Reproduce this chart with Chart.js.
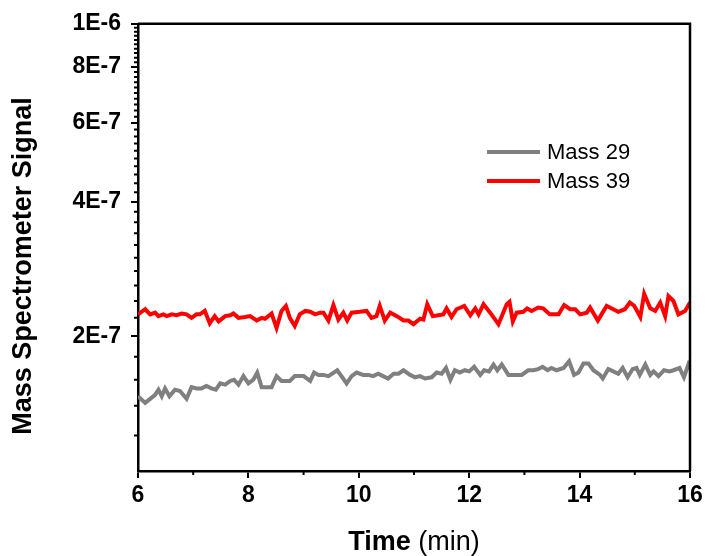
<!DOCTYPE html>
<html>
<head>
<meta charset="utf-8">
<script src="https://cdn.jsdelivr.net/npm/chart.js@4"></script>
<style>
  html, body { margin: 0; padding: 0; background: #fff; }
  #wrap { width: 707px; height: 556px; }
</style>
</head>
<body>
<div id="wrap"><canvas id="msChart"></canvas></div>
<script>
// Mass 29 (grey) and Mass 39 (red) traces
const time29 = [6.00, 6.13, 6.22, 6.31, 6.37, 6.43, 6.49, 6.57, 6.67, 6.76, 6.88, 6.97, 7.06, 7.15, 7.24, 7.33, 7.41, 7.49, 7.58, 7.67,
    7.74, 7.82, 7.91, 8.00, 8.09, 8.16, 8.24, 8.33, 8.42, 8.51, 8.60, 8.75, 8.84, 9.00, 9.12, 9.19, 9.27, 9.36, 9.45, 9.61,
    9.78, 9.87, 9.96, 10.08, 10.17, 10.26, 10.35, 10.44, 10.53, 10.63, 10.72, 10.81, 10.93, 11.02, 11.11, 11.20, 11.32, 11.41, 11.50, 11.58,
    11.66, 11.74, 11.83, 11.92, 12.00, 12.09, 12.20, 12.27, 12.36, 12.44, 12.51, 12.59, 12.71, 12.83, 12.95, 13.07, 13.16, 13.25, 13.33, 13.42,
    13.49, 13.58, 13.71, 13.81, 13.90, 13.98, 14.07, 14.16, 14.25, 14.37, 14.42, 14.52, 14.61, 14.70, 14.78, 14.87, 14.96, 15.03, 15.09, 15.19,
    15.28, 15.34, 15.43, 15.53, 15.63, 15.70, 15.81, 15.89, 15.97, 16.00];
const mass29 = [1.47e-7, 1.42e-7, 1.45e-7, 1.48e-7, 1.52e-7, 1.47e-7, 1.53e-7, 1.47e-7, 1.52e-7, 1.51e-7, 1.45e-7, 1.54e-7, 1.53e-7, 1.53e-7, 1.55e-7, 1.53e-7, 1.52e-7, 1.57e-7, 1.56e-7, 1.59e-7,
    1.60e-7, 1.56e-7, 1.63e-7, 1.57e-7, 1.60e-7, 1.66e-7, 1.54e-7, 1.54e-7, 1.54e-7, 1.63e-7, 1.59e-7, 1.59e-7, 1.63e-7, 1.63e-7, 1.59e-7, 1.66e-7, 1.64e-7, 1.64e-7, 1.63e-7, 1.68e-7,
    1.57e-7, 1.63e-7, 1.66e-7, 1.64e-7, 1.64e-7, 1.63e-7, 1.65e-7, 1.63e-7, 1.61e-7, 1.65e-7, 1.65e-7, 1.68e-7, 1.64e-7, 1.62e-7, 1.63e-7, 1.61e-7, 1.62e-7, 1.66e-7, 1.65e-7, 1.70e-7,
    1.60e-7, 1.68e-7, 1.66e-7, 1.68e-7, 1.67e-7, 1.71e-7, 1.64e-7, 1.68e-7, 1.67e-7, 1.73e-7, 1.68e-7, 1.73e-7, 1.64e-7, 1.64e-7, 1.64e-7, 1.68e-7, 1.68e-7, 1.69e-7, 1.71e-7, 1.68e-7,
    1.70e-7, 1.68e-7, 1.70e-7, 1.76e-7, 1.64e-7, 1.66e-7, 1.74e-7, 1.74e-7, 1.68e-7, 1.64e-7, 1.61e-7, 1.69e-7, 1.67e-7, 1.65e-7, 1.70e-7, 1.62e-7, 1.69e-7, 1.70e-7, 1.64e-7, 1.73e-7,
    1.64e-7, 1.67e-7, 1.63e-7, 1.68e-7, 1.67e-7, 1.68e-7, 1.70e-7, 1.62e-7, 1.73e-7, 1.70e-7];

const time39 = [6.00, 6.13, 6.22, 6.31, 6.37, 6.46, 6.52, 6.61, 6.70, 6.79, 6.88, 6.97, 7.06, 7.12, 7.21, 7.30, 7.39, 7.46, 7.58, 7.67,
    7.73, 7.82, 7.94, 8.03, 8.15, 8.24, 8.30, 8.42, 8.51, 8.60, 8.68, 8.75, 8.84, 8.93, 9.03, 9.12, 9.21, 9.30, 9.36, 9.45,
    9.54, 9.63, 9.72, 9.79, 9.87, 10.02, 10.14, 10.23, 10.32, 10.38, 10.47, 10.57, 10.69, 10.81, 10.90, 10.99, 11.11, 11.17, 11.24, 11.34,
    11.44, 11.53, 11.59, 11.68, 11.77, 11.91, 12.02, 12.11, 12.17, 12.26, 12.38, 12.53, 12.68, 12.73, 12.79, 12.86, 12.98, 13.05, 13.13, 13.25,
    13.34, 13.46, 13.62, 13.72, 13.83, 13.92, 14.01, 14.13, 14.19, 14.33, 14.49, 14.61, 14.70, 14.82, 14.91, 14.99, 15.10, 15.17, 15.28, 15.37,
    15.46, 15.55, 15.61, 15.70, 15.79, 15.91, 16.00];
const mass39 = [2.24e-7, 2.30e-7, 2.24e-7, 2.26e-7, 2.22e-7, 2.24e-7, 2.22e-7, 2.24e-7, 2.23e-7, 2.25e-7, 2.24e-7, 2.20e-7, 2.24e-7, 2.24e-7, 2.28e-7, 2.14e-7, 2.22e-7, 2.16e-7, 2.22e-7, 2.23e-7,
    2.25e-7, 2.20e-7, 2.21e-7, 2.22e-7, 2.17e-7, 2.20e-7, 2.19e-7, 2.25e-7, 2.09e-7, 2.28e-7, 2.34e-7, 2.20e-7, 2.11e-7, 2.24e-7, 2.28e-7, 2.27e-7, 2.24e-7, 2.26e-7, 2.26e-7, 2.17e-7,
    2.35e-7, 2.18e-7, 2.26e-7, 2.17e-7, 2.26e-7, 2.27e-7, 2.28e-7, 2.20e-7, 2.22e-7, 2.34e-7, 2.17e-7, 2.26e-7, 2.22e-7, 2.17e-7, 2.17e-7, 2.13e-7, 2.19e-7, 2.18e-7, 2.36e-7, 2.22e-7,
    2.23e-7, 2.24e-7, 2.31e-7, 2.21e-7, 2.30e-7, 2.34e-7, 2.23e-7, 2.31e-7, 2.24e-7, 2.36e-7, 2.26e-7, 2.13e-7, 2.36e-7, 2.39e-7, 2.16e-7, 2.26e-7, 2.27e-7, 2.31e-7, 2.28e-7, 2.32e-7,
    2.31e-7, 2.24e-7, 2.24e-7, 2.35e-7, 2.30e-7, 2.30e-7, 2.24e-7, 2.26e-7, 2.32e-7, 2.17e-7, 2.34e-7, 2.30e-7, 2.27e-7, 2.30e-7, 2.38e-7, 2.34e-7, 2.21e-7, 2.49e-7, 2.31e-7, 2.28e-7,
    2.38e-7, 2.22e-7, 2.46e-7, 2.40e-7, 2.24e-7, 2.28e-7, 2.38e-7];

const yTicks = [2e-7, 4e-7, 6e-7, 8e-7, 1e-6];
const xTicks = [6, 8, 10, 12, 14, 16];
const xMinorTicks = [7, 9, 11, 13, 15];
const seriesNames = ['Mass 29', 'Mass 39'];
const seriesColors = ['#808080', '#ff0000'];

const FONT = "'Liberation Sans', Arial, sans-serif";

// minor log ticks every 2E-8 between the labelled ones
const yMinorTicks = [];
for (let k = 6; k < 50; k++) if (k % 10 !== 0) yMinorTicks.push(k * 2e-8);

const fmtSci = v => {
    const e = Math.floor(Math.log10(v) + 1e-9);
    return Math.round(v / Math.pow(10, e)) + 'E' + e;
};

const extras = {
    id: 'extras',
    afterDraw(chart) {
        const { ctx, chartArea: a, scales: { x, y } } = chart;
        ctx.save();
        ctx.strokeStyle = '#000';
        ctx.lineWidth = 2.5;
        ctx.beginPath();
        ctx.moveTo(a.left, a.top);
        ctx.lineTo(a.right, a.top);
        ctx.lineTo(a.right, a.bottom);
        ctx.stroke();

        // minor ticks
        ctx.lineWidth = 2;
        ctx.beginPath();
        yMinorTicks.forEach(v => {
            const py = y.getPixelForValue(v);
            ctx.moveTo(a.left - 4, py);
            ctx.lineTo(a.left, py);
        });
        xMinorTicks.forEach(v => {
            const px = x.getPixelForValue(v);
            ctx.moveTo(px, a.bottom);
            ctx.lineTo(px, a.bottom + 4);
        });
        ctx.stroke();

        // legend
        ctx.font = '22px ' + FONT;
        ctx.textBaseline = 'middle';
        ctx.fillStyle = '#000';
        seriesNames.forEach((name, i) => {
            const ly = 152 + i * 29;
            ctx.strokeStyle = seriesColors[i];
            ctx.lineWidth = 4;
            ctx.beginPath();
            ctx.moveTo(487, ly);
            ctx.lineTo(540, ly);
            ctx.stroke();
            ctx.fillText(name, 547, ly + 1);
        });

        // x title: bold "Time" + regular "(min)"
        const cx = (a.left + a.right) / 2;
        ctx.font = 'bold 27px ' + FONT;
        const w1 = ctx.measureText('Time').width;
        ctx.font = '27px ' + FONT;
        const w2 = ctx.measureText(' (min)').width;
        let sx = cx - (w1 + w2) / 2;
        ctx.textAlign = 'left';
        ctx.font = 'bold 27px ' + FONT;
        ctx.fillText('Time', sx, 543);
        ctx.font = '27px ' + FONT;
        ctx.fillText(' (min)', sx + w1, 543);

        // y title
        ctx.translate(24, 266);
        ctx.rotate(-Math.PI / 2);
        ctx.textAlign = 'center';
        ctx.font = 'bold 27px ' + FONT;
        ctx.fillText('Mass Spectrometer Signal', 0, 0);
        ctx.restore();
    }
};

new Chart(document.getElementById('msChart'), {
    type: 'line',
    data: {
        datasets: [
            { label: seriesNames[0], data: time29.map((t, i) => ({ x: t, y: mass29[i] })), borderColor: seriesColors[0], borderWidth: 4, pointRadius: 0 },
            { label: seriesNames[1], data: time39.map((t, i) => ({ x: t, y: mass39[i] })), borderColor: seriesColors[1], borderWidth: 4, pointRadius: 0 }
        ]
    },
    options: {
        responsive: true, maintainAspectRatio: false, animation: false,
        layout: { padding: { top: 23, right: 17, left: 0, bottom: 0 } },
        plugins: { legend: { display: false }, tooltip: { enabled: false } },
        scales: {
            x: {
                type: 'linear', min: 6, max: 16,
                afterFit: s => { s.height = 85; },
                afterBuildTicks: s => { s.ticks = xTicks.map(v => ({ value: v })); },
                ticks: { color: '#000', font: { family: FONT, size: 23, weight: 'bold' }, padding: 4, maxRotation: 0 },
                grid: { drawOnChartArea: false, drawTicks: true, tickLength: 7, color: '#000', lineWidth: 2 },
                border: { display: true, color: '#000', width: 2.5 }
            },
            y: {
                type: 'logarithmic', min: 1e-7, max: 1e-6,
                afterFit: s => { s.width = 138; },
                afterBuildTicks: s => { s.ticks = yTicks.map(v => ({ value: v })); },
                ticks: { color: '#000', font: { family: FONT, size: 23, weight: 'bold' }, padding: 10, callback: v => fmtSci(v) },
                grid: { drawOnChartArea: false, drawTicks: true, tickLength: 7, color: '#000', lineWidth: 2 },
                border: { display: true, color: '#000', width: 2.5 }
            }
        }
    },
    plugins: [extras]
});
</script>
</body>
</html>
